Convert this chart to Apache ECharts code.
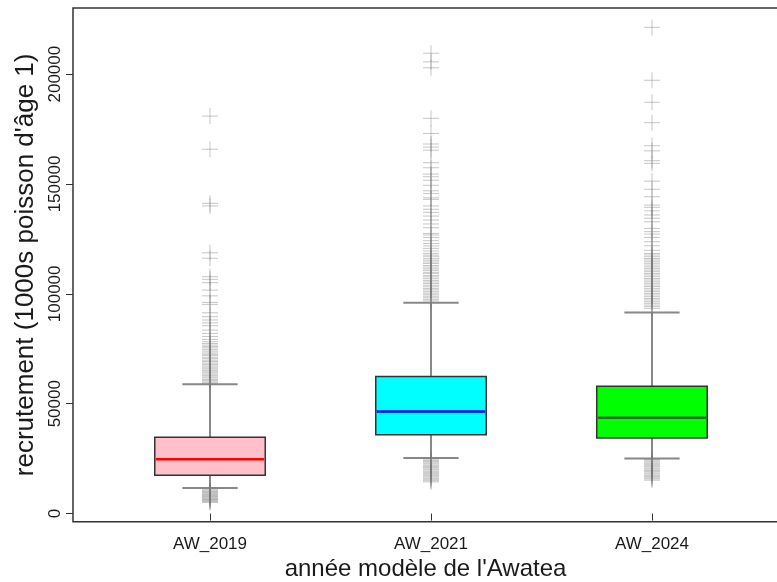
<!DOCTYPE html>
<html>
<head>
<meta charset="utf-8">
<script src="https://cdn.jsdelivr.net/npm/echarts@6/dist/echarts.min.js"></script>
<style>
html,body{margin:0;padding:0;background:#ffffff;}
#chart{width:777px;height:582px;}
</style>
</head>
<body>
<div id="chart"></div>
<script>
// ---- data ----
const categories = ['AW_2019', 'AW_2021', 'AW_2024'];
const lowerWhisker = [11600, 25300, 25100];
const q1 = [17400, 35900, 34400];
const median = [24700, 46500, 43600];
const q3 = [34700, 62400, 58000];
const upperWhisker = [58900, 96000, 91500];

const outliers2019 = [180900, 165800, 141200, 140000, 118700, 116200, 107800, 106600, 105100, 101700,
  99100, 96100, 95200, 91400, 89600, 88100, 86800, 85500, 83500, 82000, 80600, 79300, 78200, 77400,
  76700, 76000, 75400, 74600, 73900, 73100, 72500, 71900, 71100, 70500, 69800, 69200, 68500, 67900,
  67200, 66600, 65900, 65300, 64800, 64100, 63500, 62900, 62200, 61700, 61000, 60500, 59900, 59400,
  10900, 10400, 10000, 9700, 9300, 8900, 8600, 8200, 7800, 7500, 7100, 6800, 6400, 6100, 5800, 5400, 5100];
const outliers2021 = [209500, 205600, 202900, 179900, 173000, 168200, 166800, 165400, 159700, 157400,
  154500, 153300, 151700, 149400, 146900, 145700, 143700, 143000, 140000, 138500, 137100, 135400,
  133600, 131800, 130100, 127500, 126800, 125700, 124200, 122900, 121800, 120700, 119500, 118400,
  117600, 116900, 116000, 115300, 114500, 113800, 112900, 112200, 111400, 110700, 109800, 109200,
  108300, 107700, 106900, 106100, 105400, 104700, 103900, 103200, 102400, 101800, 101000, 100300,
  99600, 98900, 98200, 97500, 96800,
  24800, 24200, 23700, 23100, 22600, 22000, 21500, 21000, 20400, 19900, 19300, 18800, 18300, 17700,
  17200, 16700, 16100, 15600, 15000, 14400];
const outliers2024 = [221300, 197200, 187200, 177900, 167400, 165100, 160600, 159400, 151300, 147600,
  144200, 140400, 139400, 137800, 135900, 134400, 132800, 129800, 128300, 127200, 125700, 123700,
  121900, 119800, 118400, 117700, 116900, 116100, 115400, 114600, 113900, 113100, 112300, 111600,
  110800, 110100, 109300, 108600, 107800, 107000, 106300, 105500, 104800, 104000, 103300, 102500,
  101700, 101000, 100200, 99500, 98700, 97900, 97200, 96400, 95700, 94900, 94200, 93400,
  24600, 24000, 23500, 22900, 22400, 21800, 21300, 20700, 20200, 19600, 19100, 18500, 18000, 17400,
  16900, 16300, 15800, 15200];

const yTicks = [0, 50000, 100000, 150000, 200000];
const xTicks = [1, 2, 3];

const boxFill = ['#FFC0CB', '#00FFFF', '#00FF00'];
const medianColor = ['#FF0000', '#0000FF', '#2d6a2d'];

// ---- build series data ----
const boxData = categories.map((c, i) => [i + 1, lowerWhisker[i], q1[i], median[i], q3[i], upperWhisker[i], i]);
const outlierData = [];
[outliers2019, outliers2021, outliers2024].forEach((arr, i) => {
  arr.forEach(v => outlierData.push([i + 1, v]));
});

const FONT = '"Liberation Sans", Arial, sans-serif';
const chart = echarts.init(document.getElementById('chart'), null, {renderer: 'canvas'});

function renderBox(params, api) {
  const x = api.value(0);
  const idx = api.value(6);
  const pLo = api.coord([x, api.value(1)]);
  const pQ1 = api.coord([x, api.value(2)]);
  const pMed = api.coord([x, api.value(3)]);
  const pQ3 = api.coord([x, api.value(4)]);
  const pHi = api.coord([x, api.value(5)]);
  const left = api.coord([x - 0.25, 0])[0];
  const right = api.coord([x + 0.25, 0])[0];
  const capL = api.coord([x - 0.125, 0])[0];
  const capR = api.coord([x + 0.125, 0])[0];
  const cx = pMed[0];
  const whisk = {stroke: '#888888', lineWidth: 2};
  return {
    type: 'group',
    children: [
      {type: 'line', shape: {x1: cx, y1: pQ3[1], x2: cx, y2: pHi[1]}, style: whisk},
      {type: 'line', shape: {x1: cx, y1: pQ1[1], x2: cx, y2: pLo[1]}, style: whisk},
      {type: 'line', shape: {x1: capL, y1: pHi[1], x2: capR, y2: pHi[1]}, style: whisk},
      {type: 'line', shape: {x1: capL, y1: pLo[1], x2: capR, y2: pLo[1]}, style: whisk},
      {type: 'rect', shape: {x: left, y: pQ3[1], width: right - left, height: pQ1[1] - pQ3[1]},
        style: {fill: boxFill[idx], stroke: '#333333', lineWidth: 1.5}},
      {type: 'line', shape: {x1: left + 1, y1: pMed[1], x2: right - 1, y2: pMed[1]},
        style: {stroke: medianColor[idx], lineWidth: 2.5}}
    ]
  };
}

function renderOutlier(params, api) {
  const p = api.coord([api.value(0), api.value(1)]);
  const h = 8;
  const st = {stroke: 'rgba(120,120,120,0.42)', lineWidth: 1};
  return {
    type: 'group',
    children: [
      {type: 'line', shape: {x1: p[0] - h, y1: p[1], x2: p[0] + h, y2: p[1]}, style: st},
      {type: 'line', shape: {x1: p[0], y1: p[1] - h, x2: p[0], y2: p[1] + h}, style: st}
    ]
  };
}

const option = {
  animation: false,
  backgroundColor: '#ffffff',
  textStyle: {fontFamily: FONT},
  grid: {
    left: 73, top: 8, width: 716, height: 513.7,
    show: true, borderColor: '#333333', borderWidth: 1.5, backgroundColor: 'transparent',
    containLabel: false, outerBoundsMode: 'none'
  },
  xAxis: {
    type: 'value', min: 0.38, max: 3.62,
    splitLine: {show: false},
    axisLine: {show: false},
    axisTick: {show: true, customValues: xTicks, length: 7, lineStyle: {color: '#333333', width: 1}},
    axisLabel: {
      show: true, customValues: xTicks, margin: 14, fontSize: 17, color: '#1a1a1a', fontFamily: FONT,
      formatter: v => categories[Math.round(v) - 1] || ''
    },
    name: "année modèle de l'Awatea", nameLocation: 'middle', nameGap: 36,
    nameTextStyle: {fontSize: 24, color: '#1a1a1a', fontFamily: FONT, padding: [0, 11, 0, 0]}
  },
  yAxis: {
    type: 'value', min: -3700, max: 230100,
    splitLine: {show: false},
    axisLine: {show: false},
    axisTick: {show: true, customValues: yTicks, length: 7, lineStyle: {color: '#333333', width: 1}},
    axisLabel: {
      show: true, customValues: yTicks, rotate: 90, margin: 9, fontSize: 17, color: '#1a1a1a', fontFamily: FONT,
      formatter: v => String(v)
    },
    name: "recrutement (1000s poisson d'âge 1)", nameLocation: 'middle', nameGap: 27,
    nameTextStyle: {fontSize: 26, color: '#1a1a1a', fontFamily: FONT}
  },
  series: [
    {
      type: 'custom', name: 'boxes', renderItem: renderBox, data: boxData,
      encode: {x: 0, y: [1, 2, 3, 4, 5]}, clip: false, z: 2
    },
    {
      type: 'custom', name: 'outliers', renderItem: renderOutlier, data: outlierData,
      encode: {x: 0, y: 1}, clip: false, z: 3
    }
  ]
};
chart.setOption(option);
</script>
</body>
</html>
